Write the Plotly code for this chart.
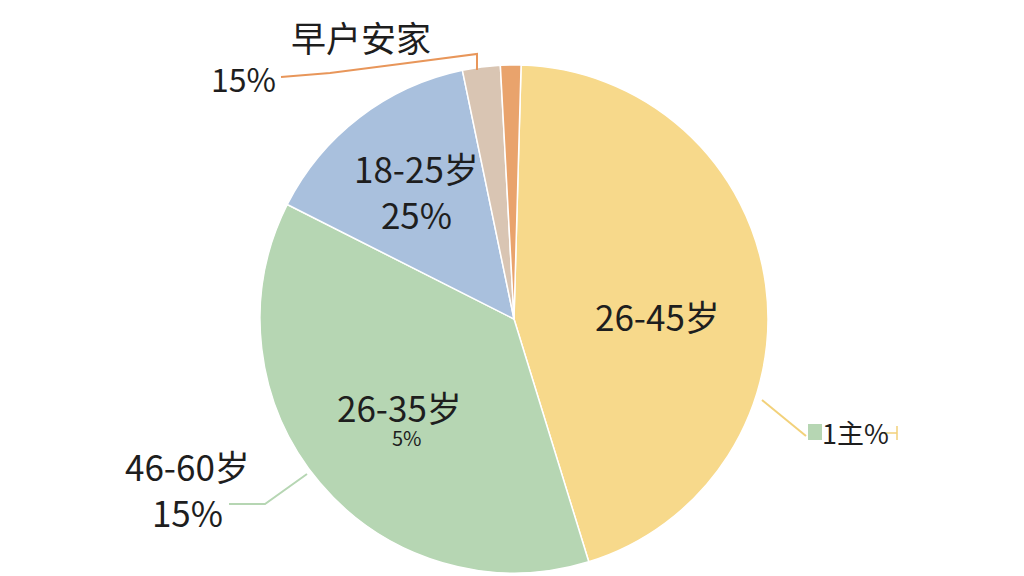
import plotly.graph_objects as go

# slice data, clockwise from 12 o'clock
labels = ["26-45岁", "26-35岁", "18-25岁", "早户安家", "其他"]
values = [44.8, 37.2, 14.3, 2.4, 1.3]
colors = ["#F7D98B", "#B6D6B3", "#A9C0DD", "#D9C5B3", "#E9A36C"]

FONT = "Noto Sans CJK SC"
W, H = 1024, 576
OFF = 8  # page body margin

def px(x, y):
    # screen pixel -> paper coords
    return (x - OFF) / W, 1 - (y - OFF) / H

cx, cy, r = 514, 319, 254
dx0, dy1 = px(cx - r, cy - r)
dx1, dy0 = px(cx + r, cy + r)

fig = go.Figure(go.Pie(
    labels=labels,
    values=values,
    sort=False,
    direction="clockwise",
    rotation=1.6,
    marker=dict(colors=colors, line=dict(color="white", width=1.5)),
    textinfo="none",
    hoverinfo="label+percent",
    domain=dict(x=[dx0, dx1], y=[dy0, dy1]),
    showlegend=False,
))

# text labels (screen pixels)
texts = [
    ("26-45岁", 657, 315, 35),
    ("18-25岁<br>25%", 416, 190, 35),
    ("26-35岁", 399, 406, 35),
    ("5%", 407, 437, 20),
    ("46-60岁<br>15%", 187, 488, 35),
    ("早户安家", 361, 37, 35),
    ("15%", 243, 78, 32),
    ("1主%", 855, 432, 27),
]
anns = []
for t, x, y, s in texts:
    xx, yy = px(x, y)
    anns.append(dict(text=t, x=xx, y=yy, xref="paper", yref="paper",
                     showarrow=False, xanchor="center", yanchor="middle",
                     font=dict(family=FONT, size=s, color="#1e1e1e")))

def path(pts):
    p = []
    for i, (x, y) in enumerate(pts):
        xx, yy = px(x, y)
        p.append(("M" if i == 0 else "L") + f"{xx},{yy}")
    return " ".join(p)

shapes = [
    dict(type="path", xref="paper", yref="paper",
         path=path([(281, 77), (330, 73), (400, 64), (477, 54), (477, 70)]),
         line=dict(color="#E8965A", width=2)),
    dict(type="path", xref="paper", yref="paper",
         path=path([(229, 504), (265, 504), (307, 474)]),
         line=dict(color="#B6D6B3", width=2)),
    dict(type="path", xref="paper", yref="paper",
         path=path([(762, 400), (806, 436)]),
         line=dict(color="#F2D17A", width=2)),
    dict(type="path", xref="paper", yref="paper",
         path=path([(884, 433), (897, 433)]),
         line=dict(color="#F2D17A", width=1.5)),
    dict(type="path", xref="paper", yref="paper",
         path=path([(897, 426), (897, 440)]),
         line=dict(color="#F2D17A", width=1.5)),
]
x0, y0 = px(808, 424)
x1, y1 = px(822, 440)
shapes.append(dict(type="rect", xref="paper", yref="paper",
                   x0=x0, y0=y0, x1=x1, y1=y1,
                   fillcolor="#B6D6B3", line=dict(width=0)))

fig.update_layout(
    width=W, height=H,
    margin=dict(l=0, r=0, t=0, b=0),
    paper_bgcolor="white",
    plot_bgcolor="white",
    annotations=anns,
    shapes=shapes,
)

fig.write_html("out.html")
